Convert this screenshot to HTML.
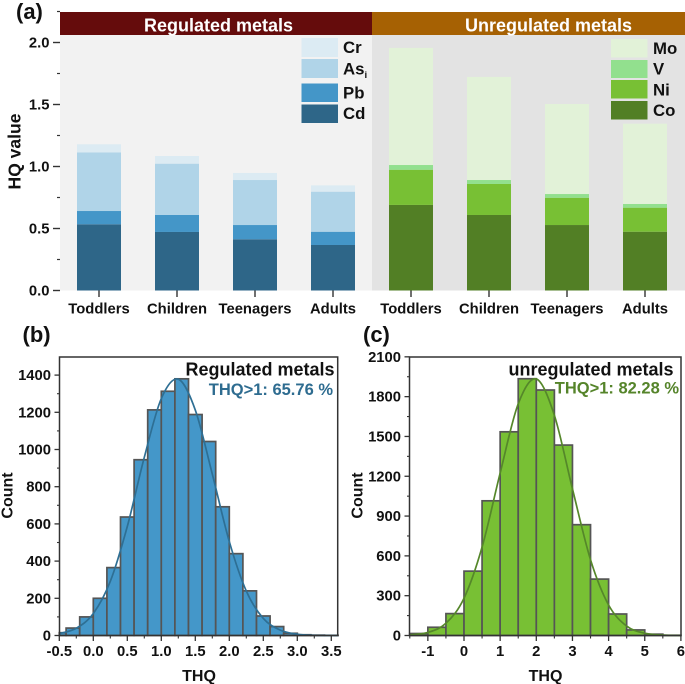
<!DOCTYPE html>
<html lang="en">
<head>
<meta charset="utf-8">
<title>HQ and THQ of regulated and unregulated metals</title>
<style>
html,body{margin:0;padding:0;background:#fff;width:685px;height:684px;overflow:hidden}
svg{display:block;font-family:"Liberation Sans",Arial,sans-serif;font-weight:bold;color:#111}
text{fill:#111}
</style>
</head>
<body>
<svg id="figure" xmlns="http://www.w3.org/2000/svg" width="685" height="684" viewBox="0 0 685 684">
  <g id="panel-a">
    <rect x="60" y="35" width="312" height="255.5" fill="#f2f2f2"/>
    <rect x="372" y="35" width="313" height="255.5" fill="#e3e3e3"/>
    <rect x="60" y="12" width="312" height="23" fill="#650c0c"/>
    <rect x="372" y="12" width="313" height="23" fill="#a66103"/>
    <text x="218.5" y="31.5" text-anchor="middle" font-size="18" style="fill:#fff">Regulated metals</text>
    <text x="548.5" y="31.5" text-anchor="middle" font-size="18" style="fill:#fff">Unregulated metals</text>
    <text x="16" y="19" font-size="22">(a)</text>
    <text transform="translate(20.5,151.5) rotate(-90)" text-anchor="middle" font-size="17.5">HQ value</text>
    <g id="a-marks"></g>
    <g id="a-axis"></g>
    <g id="a-legend"></g>
  </g>
  <g id="panel-b">
    <text x="22.5" y="342" font-size="22">(b)</text>
    <text transform="translate(12.5,495.5) rotate(-90)" text-anchor="middle" font-size="16">Count</text>
    <text x="199" y="681" text-anchor="middle" font-size="16">THQ</text>
    <g id="b-plot"></g>
    <text x="334.5" y="375.5" text-anchor="end" font-size="18">Regulated metals</text>
    <text x="333" y="395" text-anchor="end" font-size="16.5" style="fill:#2e6c90">THQ&gt;1: 65.76 %</text>
  </g>
  <g id="panel-c">
    <text x="363" y="342" font-size="22">(c)</text>
    <text transform="translate(362.5,495.5) rotate(-90)" text-anchor="middle" font-size="16">Count</text>
    <text x="545.5" y="681" text-anchor="middle" font-size="16">THQ</text>
    <g id="c-plot"></g>
    <text x="673.5" y="375.5" text-anchor="end" font-size="18">unregulated metals</text>
    <text x="679" y="393.5" text-anchor="end" font-size="16.5" style="fill:#55842a">THQ&gt;1: 82.28 %</text>
  </g>
</svg>
<script>
// ---- Panel (a) data ----
const groups = ['Toddlers', 'Children', 'Teenagers', 'Adults'];
const cd = [0.534, 0.472, 0.413, 0.367];
const pb = [0.107, 0.137, 0.115, 0.107];
const asi = [0.473, 0.414, 0.363, 0.323];
const cr = [0.065, 0.062, 0.057, 0.051];
const co = [0.690, 0.609, 0.528, 0.474];
const ni = [0.284, 0.250, 0.220, 0.194];
const v = [0.038, 0.032, 0.030, 0.030];
const mo = [0.944, 0.831, 0.726, 0.647];
const hqTicks = ['0.0', '0.5', '1.0', '1.5', '2.0'];
const hqMinorTicks = [0.25, 0.75, 1.25, 1.75, 2.25];

// ---- Panel (b) data ----
const regBinLeft = [-0.5, -0.4, -0.2, 0, 0.2, 0.4, 0.6, 0.8, 1.0, 1.2, 1.4, 1.6, 1.8, 2.0, 2.2, 2.4, 2.6, 2.8, 3.0, 3.2, 3.4];
const regBinRight = [-0.4, -0.2, 0, 0.2, 0.4, 0.6, 0.8, 1.0, 1.2, 1.4, 1.6, 1.8, 2.0, 2.2, 2.4, 2.6, 2.8, 3.0, 3.2, 3.4, 3.6];
const regCounts = [15, 40, 100, 200, 365, 637, 945, 1213, 1313, 1380, 1188, 1043, 692, 440, 240, 105, 48, 12, 4, 2, 1];
const regCurveX = [-0.5, -0.25, 0, 0.25, 0.5, 0.75, 1, 1.25, 1.5, 1.75, 2, 2.25, 2.5, 2.75, 3, 3.25, 3.5, 3.6];
const regCurveY = [10, 39, 118, 291, 586, 958, 1274, 1378, 1212, 868, 505, 239, 92, 29, 7, 1, 0, 0];
const regXTicks = ['-0.5', '0.0', '0.5', '1.0', '1.5', '2.0', '2.5', '3.0', '3.5'];
const regXMinor = [-0.25, 0.25, 0.75, 1.25, 1.75, 2.25, 2.75, 3.25];
const regYTicks = ['0', '200', '400', '600', '800', '1000', '1200', '1400'];
const regYMinor = [100, 300, 500, 700, 900, 1100, 1300];

// ---- Panel (c) data ----
const unregBinLeft = [-1.5, -1, -0.5, 0, 0.5, 1, 1.5, 2, 2.5, 3, 3.5, 4, 4.5, 5, 5.5];
const unregBinRight = [-1, -0.5, 0, 0.5, 1, 1.5, 2, 2.5, 3, 3.5, 4, 4.5, 5, 5.5, 6];
const unregCounts = [15, 62, 165, 485, 1015, 1535, 1935, 1850, 1435, 835, 425, 162, 42, 10, 2];
const unregCurveX = [-1.5, -1, -0.5, 0, 0.5, 1, 1.5, 2, 2.5, 3, 3.5, 4, 4.5, 5, 5.5, 6];
const unregCurveY = [5, 23, 92, 281, 666, 1224, 1746, 1933, 1659, 1105, 571, 230, 71, 17, 3, 0];
const unregXTicks = ['-1', '0', '1', '2', '3', '4', '5', '6'];
const unregXMinor = [-1.5, -0.5, 0.5, 1.5, 2.5, 3.5, 4.5, 5.5];
const unregYTicks = ['0', '300', '600', '900', '1200', '1500', '1800', '2100'];
const unregYMinor = [150, 450, 750, 1050, 1350, 1650, 1950];

const NS = 'http://www.w3.org/2000/svg';
function el(parent, tag, attrs, txt) {
  const e = document.createElementNS(NS, tag);
  for (const k in attrs) e.setAttribute(k, attrs[k]);
  if (txt !== undefined) e.textContent = txt;
  parent.appendChild(e);
  return e;
}
function mark(e, name) {
  
  
  return e;
}

// ---- Panel (a) drawing ----
const yA = val => 290.5 - val * 124;
const xReg = i => 99 + i * 78;
const xUnreg = i => 411 + i * 78;
const aMarks = document.getElementById('a-marks');
const aAxis = document.getElementById('a-axis');
const BAR_W = 44;

function drawStack(xFn, layers, names, colors) {
  groups.forEach((g, i) => {
    let base = 0;
    layers.forEach((layer, j) => {
      const top = base + layer[i];
      const r = el(aMarks, 'rect', {x: xFn(i) - BAR_W / 2, y: yA(top), width: BAR_W, height: yA(base) - yA(top), fill: colors[j]});
      mark(r, 'bar-' + g.toLowerCase() + '-' + names[j]);
      base = top;
    });
  });
}
drawStack(xReg, [cd, pb, asi, cr], ['cd', 'pb', 'as', 'cr'], ['#2e6688', '#4496c8', '#b0d4e8', '#dcebf3']);
drawStack(xUnreg, [co, ni, v, mo], ['co', 'ni', 'v', 'mo'], ['#527f25', '#78c034', '#92e08e', '#e2f2d8']);

hqTicks.forEach(t => {
  const y = yA(parseFloat(t));
  const l = el(aAxis, 'line', {x1: 53, x2: 60, y1: y, y2: y, stroke: '#333', 'stroke-width': 1.4});
  mark(l, 'y-tick');
  const tx = el(aAxis, 'text', {x: 49.5, y: y + 5, 'text-anchor': 'end', 'font-size': 14.8}, t);
  mark(tx, 'y-tick-label');
});
hqMinorTicks.forEach(t => {
  const y = yA(t);
  const l = el(aAxis, 'line', {x1: 57, x2: 60, y1: y, y2: y, stroke: '#333', 'stroke-width': 1.2});
  mark(l, 'y-minor-tick');
});
groups.forEach((g, i) => {
  [xReg(i), xUnreg(i)].forEach(x => {
    const l = el(aAxis, 'line', {x1: x, x2: x, y1: 290.5, y2: 297, stroke: '#333', 'stroke-width': 1.4});
    mark(l, 'x-tick');
    const tx = el(aAxis, 'text', {x: x, y: 313.5, 'text-anchor': 'middle', 'font-size': 14.8}, g);
    mark(tx, 'x-tick-label');
  });
});

// Legends
const aLegend = document.getElementById('a-legend');
function legendEntry(x, y, h, color, label, baseline, textX) {
  const r = el(aLegend, 'rect', {x: x, y: y, width: 36.5, height: h, fill: color});
  mark(r, 'legend-swatch-' + label.toLowerCase());
  const t = el(aLegend, 'text', {x: textX, y: baseline, 'font-size': 16.8}, label);
  mark(t, 'legend-label-' + label.toLowerCase());
  return t;
}
legendEntry(301.5, 38, 19, '#dcebf3', 'Cr', 53, 343);
const asLabel = legendEntry(301.5, 59, 19, '#b0d4e8', 'As', 74.5, 343);
el(asLabel, 'tspan', {dy: 3.5, 'font-size': 9.5}, 'i');
legendEntry(301.5, 83.5, 18.5, '#4496c8', 'Pb', 98.5, 343);
legendEntry(301.5, 104.5, 18.5, '#2e6688', 'Cd', 119, 343);
legendEntry(611, 39, 18.5, '#e2f2d8', 'Mo', 54, 653);
legendEntry(611, 60, 18, '#92e08e', 'V', 74.5, 653);
legendEntry(611, 80, 18.5, '#78c034', 'Ni', 95.5, 653);
legendEntry(611, 101, 18.5, '#527f25', 'Co', 116, 653);

// ---- Histograms ----
function smoothPath(px, py) {
  let d = 'M' + px[0].toFixed(2) + ' ' + py[0].toFixed(2);
  for (let i = 0; i < px.length - 1; i++) {
    const x0 = px[Math.max(i - 1, 0)], y0 = py[Math.max(i - 1, 0)];
    const x1 = px[i], y1 = py[i], x2 = px[i + 1], y2 = py[i + 1];
    const x3 = px[Math.min(i + 2, px.length - 1)], y3 = py[Math.min(i + 2, px.length - 1)];
    d += 'C' + (x1 + (x2 - x0) / 6).toFixed(2) + ' ' + (y1 + (y2 - y0) / 6).toFixed(2) + ' ' +
         (x2 - (x3 - x1) / 6).toFixed(2) + ' ' + (y2 - (y3 - y1) / 6).toFixed(2) + ' ' +
         x2.toFixed(2) + ' ' + y2.toFixed(2);
  }
  return d;
}
function drawHist(g, cfg) {
  cfg.binLeft.forEach((b, i) => {
    const top = cfg.y(cfg.counts[i]);
    const r = el(g, 'rect', {x: cfg.x(b), y: top, width: cfg.x(cfg.binRight[i]) - cfg.x(b), height: cfg.y(0) - top, fill: cfg.fill, stroke: '#555', 'stroke-width': 1.7});
    mark(r, 'histogram-bar');
  });
  const curve = el(g, 'path', {d: smoothPath(cfg.curveX.map(cfg.x), cfg.curveY.map(cfg.y)), fill: 'none', stroke: cfg.curve, 'stroke-width': 1.7});
  mark(curve, 'normal-fit-curve');
  const frame = el(g, 'rect', {x: cfg.left, y: 357, width: cfg.right - cfg.left, height: cfg.y(0) - 357, fill: 'none', stroke: '#333', 'stroke-width': 1.5});
  mark(frame, 'plot-frame');
  cfg.xTicks.forEach(t => {
    const x = cfg.x(parseFloat(t));
    const l = el(g, 'line', {x1: x, x2: x, y1: cfg.y(0), y2: cfg.y(0) + 5.5, stroke: '#333', 'stroke-width': 1.3});
    mark(l, 'x-tick');
    const tx = el(g, 'text', {x: x, y: 656, 'text-anchor': 'middle', 'font-size': 14.8}, t);
    mark(tx, 'x-tick-label');
  });
  cfg.xMinor.forEach(t => {
    const x = cfg.x(t);
    const l = el(g, 'line', {x1: x, x2: x, y1: cfg.y(0), y2: cfg.y(0) + 3, stroke: '#333', 'stroke-width': 1.1});
    mark(l, 'x-minor-tick');
  });
  cfg.yTicks.forEach(t => {
    const y = cfg.y(parseFloat(t));
    const l = el(g, 'line', {x1: cfg.left - 5, x2: cfg.left, y1: y, y2: y, stroke: '#333', 'stroke-width': 1.3});
    mark(l, 'y-tick');
    const tx = el(g, 'text', {x: cfg.left - 8.5, y: y + 5, 'text-anchor': 'end', 'font-size': 14.8}, t);
    mark(tx, 'y-tick-label');
  });
  cfg.yMinor.forEach(t => {
    const y = cfg.y(t);
    const l = el(g, 'line', {x1: cfg.left - 2.5, x2: cfg.left, y1: y, y2: y, stroke: '#333', 'stroke-width': 1.1});
    mark(l, 'y-minor-tick');
  });
}
drawHist(document.getElementById('b-plot'), {
  x: v => 93.3 + v * 68,
  y: c => 635.5 - c * 0.186,
  left: 59.5, right: 337.7,
  binLeft: regBinLeft, binRight: regBinRight, counts: regCounts,
  curveX: regCurveX, curveY: regCurveY,
  xTicks: regXTicks, xMinor: regXMinor, yTicks: regYTicks, yMinor: regYMinor,
  fill: '#4497c9', curve: '#2e6f94'
});
drawHist(document.getElementById('c-plot'), {
  x: v => 464 + v * 36.15,
  y: c => 635.5 - c * 0.1327,
  left: 409.5, right: 681,
  binLeft: unregBinLeft, binRight: unregBinRight, counts: unregCounts,
  curveX: unregCurveX, curveY: unregCurveY,
  xTicks: unregXTicks, xMinor: unregXMinor, yTicks: unregYTicks, yMinor: unregYMinor,
  fill: '#78c034', curve: '#55872a'
});
</script>
</body>
</html>
